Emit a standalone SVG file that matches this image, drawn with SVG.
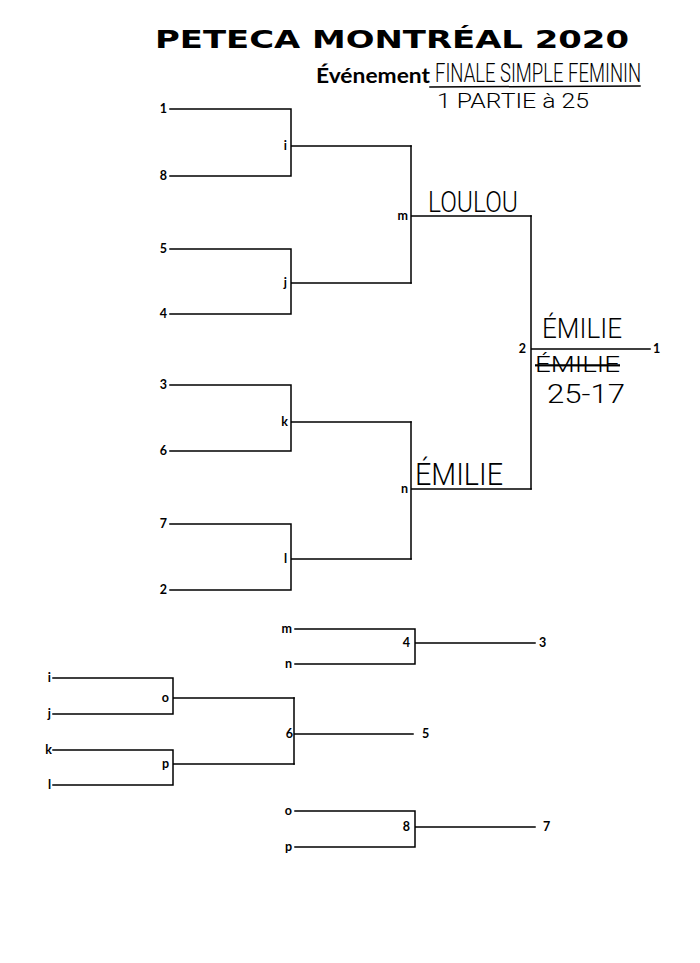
<svg xmlns="http://www.w3.org/2000/svg" width="700" height="963" viewBox="0 0 700 963">
<style>
.ln{stroke:#000;stroke-width:1.5;fill:none;stroke-linecap:square}
.lb{font-family:Lato,"Open Sans","Liberation Sans",sans-serif;font-weight:bold;font-size:12.5px;fill:#000}
.r{text-anchor:end}
.hw{font-family:Roboto,"Open Sans","Liberation Sans",sans-serif;font-weight:300;fill:#000}
</style>
<rect width="700" height="963" fill="#fff"/>
<g id="title">
<text x="155" y="48" font-family="'DejaVu Sans',sans-serif" font-weight="bold" font-size="24" textLength="474" lengthAdjust="spacingAndGlyphs">PETECA MONTRÉAL 2020</text>
<text x="316" y="83" font-family="Lato,'Open Sans',sans-serif" font-weight="bold" font-size="20" textLength="114" lengthAdjust="spacingAndGlyphs">Événement</text>
<text class="hw" x="0" y="0" font-size="25" textLength="300" lengthAdjust="spacingAndGlyphs" transform="translate(435 82) scale(0.687 1)">FINALE SIMPLE FEMININ</text>
<line class="ln" x1="430" y1="87" x2="640" y2="86" stroke-width="1.2"/>
<text class="hw" x="437" y="108" font-size="21" textLength="152" lengthAdjust="spacingAndGlyphs">1 PARTIE à 25</text>
</g>
<g id="connectors">
<path class="ln" d="M170 109H291V176H170M291 146H411"/>
<path class="ln" d="M170 249H291V314H170M291 283H411"/>
<path class="ln" d="M170 385H291V451H170M291 422H411"/>
<path class="ln" d="M170 524H291V590H170M291 559H411"/>
<path class="ln" d="M411 146V283M411 216H531"/>
<path class="ln" d="M411 422V559M411 489H531"/>
<path class="ln" d="M531 216V489M531 349H650"/>
<path class="ln" d="M295 629H415V664H295M415 643H535"/>
<path class="ln" d="M53 678H173V714H53M173 698H294"/>
<path class="ln" d="M53 750H173V785H53M173 764H294"/>
<path class="ln" d="M294 698V764M294 734H413"/>
<path class="ln" d="M295 811H415V847H295M415 827H535"/>
</g>
<g id="seeds">
<text class="lb r" x="167" y="113">1</text>
<text class="lb r" x="167" y="180">8</text>
<text class="lb r" x="167" y="253">5</text>
<text class="lb r" x="167" y="318">4</text>
<text class="lb r" x="167" y="389">3</text>
<text class="lb r" x="167" y="455">6</text>
<text class="lb r" x="167" y="528">7</text>
<text class="lb r" x="167" y="594">2</text>
</g>
<g id="node-i"><text class="lb r" x="287" y="150">i</text></g>
<g id="node-j"><text class="lb r" x="287" y="287">j</text></g>
<g id="node-k"><text class="lb r" x="288" y="426">k</text></g>
<g id="node-l"><text class="lb r" x="287" y="563">l</text></g>
<g id="node-m"><text class="lb r" x="408" y="220">m</text>
<text class="hw" x="428" y="212" font-size="30" textLength="90" lengthAdjust="spacingAndGlyphs">LOULOU</text></g>
<g id="node-n"><text class="lb r" x="408" y="493">n</text>
<text class="hw" x="415" y="485" font-size="32" textLength="88" lengthAdjust="spacingAndGlyphs">ÉMILIE</text></g>
<g id="node-2"><text class="lb r" x="526" y="353">2</text>
<text class="lb" x="653" y="353">1</text>
<text class="hw" x="542" y="338" font-size="28" textLength="80" lengthAdjust="spacingAndGlyphs">ÉMILIE</text>
<text class="hw" x="535" y="372" font-size="22" textLength="85" lengthAdjust="spacingAndGlyphs" text-decoration="line-through">ÉMILIE</text>
<text class="hw" x="547" y="403" font-size="26" textLength="78" lengthAdjust="spacingAndGlyphs">25-17</text></g>
<g id="node-4">
<text class="lb r" x="292" y="633">m</text>
<text class="lb r" x="292" y="668">n</text>
<text class="lb r" x="410" y="647">4</text>
<text class="lb" x="539" y="647">3</text>
</g>
<g id="node-o">
<text class="lb r" x="51" y="682">i</text>
<text class="lb r" x="51" y="718">j</text>
<text class="lb r" x="169" y="702">o</text>
</g>
<g id="node-p">
<text class="lb r" x="52" y="754">k</text>
<text class="lb r" x="51" y="789">l</text>
<text class="lb r" x="169" y="768">p</text>
</g>
<g id="node-6">
<text class="lb r" x="293" y="738">6</text>
<text class="lb" x="422" y="738">5</text>
</g>
<g id="node-8">
<text class="lb r" x="292" y="815">o</text>
<text class="lb r" x="292" y="851">p</text>
<text class="lb r" x="410" y="831">8</text>
<text class="lb" x="543" y="831">7</text>
</g>
</svg>
